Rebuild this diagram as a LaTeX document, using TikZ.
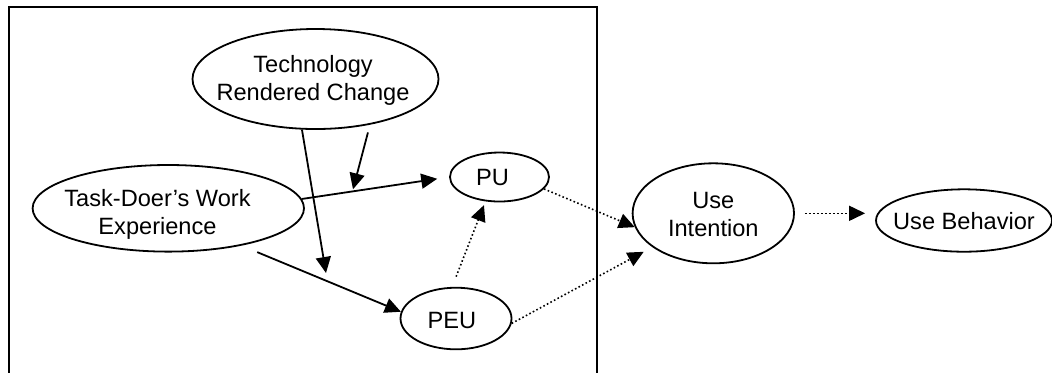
\documentclass[tikz,border=0pt]{standalone}
\usepackage{fontspec}
\setmainfont{Liberation Sans}
\usetikzlibrary{shapes.geometric}
\usetikzlibrary{arrows.meta}

\tikzset{
 var/.style={ellipse,draw,line width=0.9pt,inner sep=0pt},
 txt/.style={align=center,inner sep=0pt,font=\fontsize{11.8}{14}\selectfont},
 link/.style={-{Triangle[length=8pt,width=7.5pt]},line width=0.9pt},
 dlink/.style={link,line width=0.8pt,dash pattern=on 0.8pt off 1.2pt}
}

\begin{document}
\begin{tikzpicture}[x=0.5pt,y=-0.5pt]
 \useasboundingbox (0,0) rectangle (1052,372);
 \draw[line width=1pt] (8.5,375)--(8.5,6.5)--(597,6.5)--(597,375);

 \node[var,minimum width=123pt,minimum height=50pt] (tech) at (315.5,79) {};
 \node[var,minimum width=135.7pt,minimum height=43.3pt] (task) at (168.3,208.3) {};
 \node[var,minimum width=49.5pt,minimum height=24.5pt] (pu) at (499.5,177) {};
 \node[var,minimum width=55.5pt,minimum height=30.8pt] (peu) at (456,318.5) {};
 \node[var,minimum width=80.7pt,minimum height=50pt] (ui) at (713.3,213.3) {};
 \node[var,minimum width=88pt,minimum height=31.2pt] (ub) at (964,220.5) {};

 \node[txt] (tech-t) at (313,80) {Technology\\Rendered Change};
 \node[txt] (task-t) at (157.5,214) {Task-Doer’s Work\\Experience};
 \node[txt] (pu-t) at (492.5,177) {PU};
 \node[txt] (peu-t) at (452,320) {PEU};
 \node[txt] (ui-t) at (713.3,214) {Use\\Intention};
 \node[txt] (ub-t) at (964,221) {Use Behavior};

 \coordinate (onpu) at (353,189.3);
 \coordinate (onpeu) at (326,273);

 \draw[link] (tech.-105) -- (onpeu);
 \draw[link,shorten <=4pt] (tech.-40) -- (onpu);
 \draw[link,shorten >=6pt] (task.4) -- (pu.west);
 \draw[link,shorten <=8.5pt] (task.-27.5) -- (peu.173);
 \draw[dlink,shorten <=5.5pt,shorten >=2pt] (peu.97) -- (pu.-120);
 \draw[dlink] (pu.-15) -- (ui.190);
 \draw[dlink,shorten >=4.9pt] (peu.-5) -- (ui.209.5);
 \draw[dlink,shorten <=5pt,shorten >=5pt] (ui.east) -- (ui.east -| ub.west);
\end{tikzpicture}
\end{document}
